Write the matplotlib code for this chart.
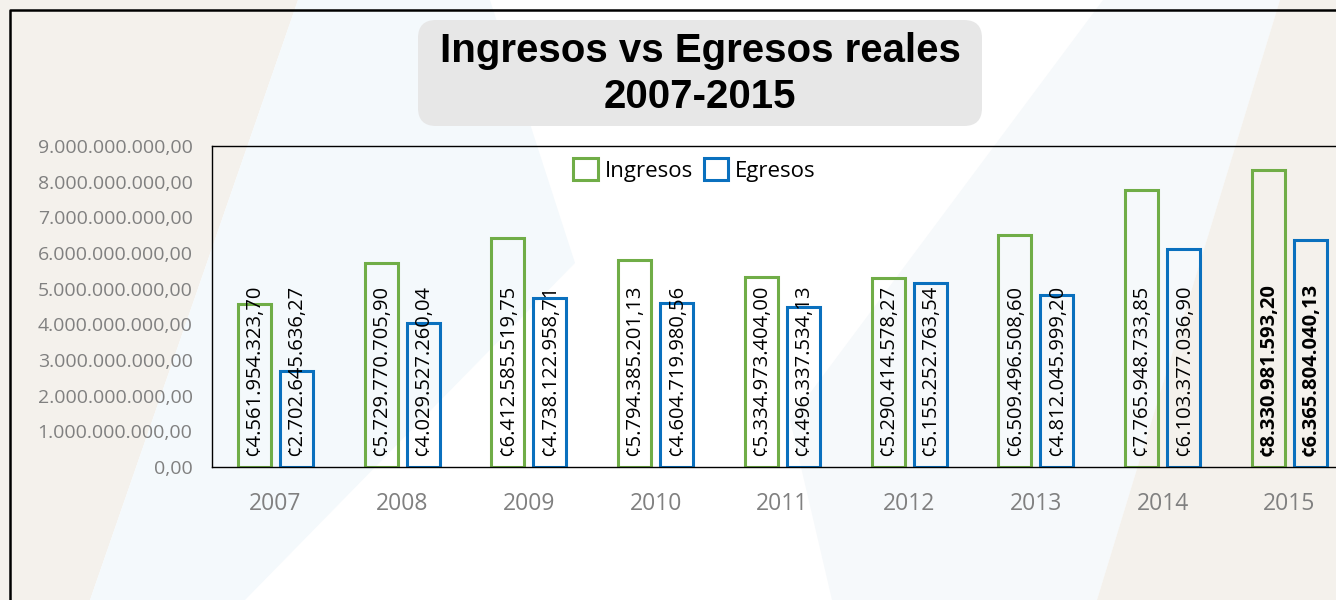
import matplotlib
matplotlib.use('Agg')
import matplotlib.pyplot as plt
from matplotlib.patches import Polygon, FancyBboxPatch, Patch
from matplotlib.lines import Line2D
from matplotlib.transforms import IdentityTransform

anios = ['2007', '2008', '2009', '2010', '2011', '2012', '2013', '2014', '2015']
ingresos = [4561954323.70, 5729770705.90, 6412585519.75, 5794385201.13, 5334973404.00,
            5290414578.27, 6509496508.60, 7765948733.85, 8330981593.20]
egresos = [2702645636.27, 4029527260.04, 4738122958.71, 4604719980.56, 4496337534.13,
           5155252763.54, 4812045999.20, 6103377036.90, 6365804040.13]

verde = '#70ad47'
azul = '#0a70be'
gris = '#808080'

def fmt(v):
    # separador de miles con punto y decimales con coma
    s = f'{v:,.2f}'
    return s.replace(',', 'X').replace('.', ',').replace('X', '.')

W, H = 1336, 600
fig = plt.figure(figsize=(W / 100, H / 100), dpi=100)
fig.patch.set_facecolor('white')

def px(pts):
    return [(x / W, 1 - y / H) for x, y in pts]

# fondo decorativo
fig.patches.append(Polygon(px([(0, 0), (298, 0), (90, 600), (0, 600)]), closed=True,
                           transform=fig.transFigure, facecolor='#f4f1ec', edgecolor='none', zorder=-5))
fig.patches.append(Polygon(px([(298, 0), (490, 0), (575, 263), (245, 600), (90, 600)]), closed=True,
                           transform=fig.transFigure, facecolor='#f4f9fc', edgecolor='none', zorder=-5))
fig.patches.append(Polygon(px([(1103, 0), (1280, 0), (1097, 600), (832, 600), (790, 420)]), closed=True,
                           transform=fig.transFigure, facecolor='#f6f9fb', edgecolor='none', zorder=-5))
fig.patches.append(Polygon(px([(1280, 0), (1336, 0), (1336, 600), (1097, 600)]), closed=True,
                           transform=fig.transFigure, facecolor='#f4f1ec', edgecolor='none', zorder=-5))

# marco negro
fig.lines.append(Line2D([10 / W, 10 / W, 1], [0, 1 - 10 / H, 1 - 10 / H], transform=fig.transFigure,
                        color='black', lw=1.8, zorder=5))

# caja del titulo
fig.patches.append(FancyBboxPatch((418, H - 126), 564, 106, boxstyle='round,pad=0,rounding_size=18',
                                  transform=IdentityTransform(), facecolor='#e7e7e7', edgecolor='none', zorder=-1))
fig.text(700 / W, 1 - 74 / H, 'Ingresos vs Egresos reales\n2007-2015', ha='center', va='center',
         fontsize=29, fontweight='bold', family='Liberation Sans', linespacing=1.3)

ax = fig.add_axes([212 / W, 133 / H, 1140.75 / W, 321 / H])
ax.patch.set_alpha(0)

x = list(range(len(anios)))
xi = [i - 0.166 for i in x]
xe = [i + 0.166 for i in x]
ax.bar(xi, ingresos, width=0.26, facecolor='none', edgecolor=verde, linewidth=2.2, zorder=2)
ax.bar(xe, egresos, width=0.26, facecolor='none', edgecolor=azul, linewidth=2.2, zorder=2)

for i in x:
    peso = 'bold' if i == len(anios) - 1 else 'normal'
    ax.annotate('¢' + fmt(ingresos[i]), (xi[i], 0), xytext=(0, 8), textcoords='offset points',
                rotation=90, ha='center', va='bottom', fontsize=14.5, family='Open Sans', fontweight=peso, zorder=3)
    ax.annotate('¢' + fmt(egresos[i]), (xe[i], 0), xytext=(0, 8), textcoords='offset points',
                rotation=90, ha='center', va='bottom', fontsize=14.5, family='Open Sans', fontweight=peso, zorder=3)

ax.set_xlim(-0.5, len(anios) - 0.5)
ax.set_ylim(0, 9e9)
ax.set_yticks([i * 1e9 for i in range(10)])
ax.set_yticklabels([fmt(i * 1e9) for i in range(10)], fontsize=14, color=gris, family='Open Sans')
ax.set_xticks(x)
ax.set_xticklabels(anios, fontsize=16.5, color=gris, family='Open Sans')
ax.tick_params(axis='y', length=0, pad=14)
ax.tick_params(axis='x', length=0, pad=18)
for s in ['left', 'top', 'bottom', 'right']:
    ax.spines[s].set_color('black')
    ax.spines[s].set_linewidth(1.0)

handles = [Patch(facecolor='none', edgecolor=verde, linewidth=2.2, label='Ingresos'),
           Patch(facecolor='none', edgecolor=azul, linewidth=2.2, label='Egresos')]
ax.legend(handles=handles, loc='center', bbox_to_anchor=(0.423, 0.925), ncol=2, frameon=False,
          prop={'family': 'Open Sans', 'size': 16}, handlelength=1.1, handleheight=1.1,
          handletextpad=0.3, columnspacing=0.5)

fig.savefig('out.png', dpi=100)
